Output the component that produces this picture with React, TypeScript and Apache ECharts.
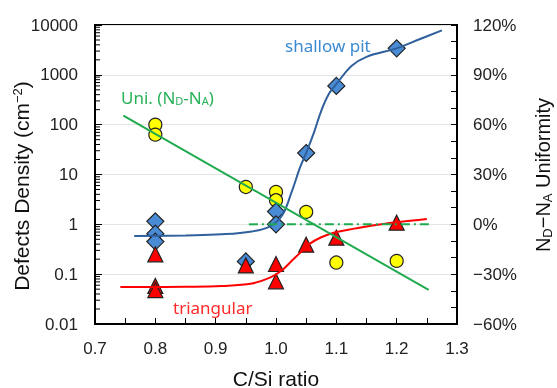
import React, { useEffect, useRef } from "react";
import * as echarts from "echarts";

// C/Si ratio measurements
const pitX = [0.8, 0.8, 0.8, 0.95, 1.0, 1.0, 1.05, 1.1, 1.2];
const pitY = [1.15, 0.65, 0.45, 0.18, 1.8, 1.0, 27, 600, 3400];

const triX = [0.8, 0.8, 0.8, 0.95, 1.0, 1.0, 1.05, 1.1, 1.2];
const triY = [0.25, 0.058, 0.048, 0.15, 0.16, 0.072, 0.39, 0.54, 1.08];

const uniX = [0.8, 0.8, 0.95, 1.0, 1.0, 1.05, 1.1, 1.2];
const uniY = [60, 54, 22.5, 19.5, 14.5, 7.5, -23, -22];

// fitted curves
const pitFitX = [0.765, 0.85, 0.91, 0.96, 0.99, 1.01, 1.026, 1.04, 1.05, 1.063, 1.075, 1.088, 1.1, 1.125, 1.15, 1.2, 1.24, 1.275];
const pitFitY = [0.58, 0.6, 0.63, 0.72, 0.91, 1.5, 4.5, 14, 27, 70, 190, 420, 650, 1500, 2300, 3400, 5300, 7800];

const triFitX = [0.742, 0.85, 0.91, 0.96, 0.99, 1.01, 1.025, 1.04, 1.055, 1.075, 1.1, 1.13, 1.16, 1.2, 1.25];
const triFitY = [0.055, 0.056, 0.058, 0.065, 0.085, 0.12, 0.18, 0.27, 0.4, 0.55, 0.7, 0.82, 0.95, 1.1, 1.28];

const uniFitX = [0.747, 1.253];
const uniFitY = [65.5, -39.5];

const zeroX = [0.955, 1.255];
const zeroY = [0, 0];

// log-axis minor tick positions
const minorMantissa = [2, 3, 4, 5, 6, 7, 8, 9];
const decades = [0.01, 0.1, 1, 10, 100, 1000];

const pair = (xs: number[], ys: number[]) => xs.map((x, i) => [x, ys[i]]);

export default function App() {
  const ref = useRef<HTMLDivElement>(null);
  useEffect(() => {
    if (!ref.current) return;
    const chart = echarts.init(ref.current, null, { renderer: "svg" });
    const axisFont = "Liberation Sans";
    const annFont = "Noto Sans";
    const minorData: number[][] = [];
    decades.forEach((d) => minorMantissa.forEach((m) => minorData.push([0.7, m * d])));

    chart.setOption({
      animation: false,
      grid: { left: 95, right: 100, top: 25, bottom: 64, show: true, borderColor: "#000", borderWidth: 2 },
      xAxis: {
        type: "value",
        min: 0.7,
        max: 1.3,
        interval: 0.1,
        axisLine: { onZero: false, lineStyle: { color: "#000", width: 2 } },
        axisTick: { show: true, inside: true, length: 6, lineStyle: { color: "#000", width: 1 } },
        minorTick: { show: true, splitNumber: 2, length: 6, lineStyle: { color: "#000", width: 1 } },
        splitLine: { show: false },
        axisLabel: {
          margin: 16,
          fontSize: 17,
          fontFamily: axisFont,
          color: "#222",
          formatter: (v: number) => v.toFixed(1),
        },
      },
      yAxis: [
        {
          type: "log",
          logBase: 10,
          min: 0.01,
          max: 10000,
          axisLine: { show: true, lineStyle: { color: "#000", width: 2 } },
          axisTick: { show: true, inside: true, length: 7, lineStyle: { color: "#000", width: 1 } },
          splitLine: { show: true, lineStyle: { color: "#e4e4e4", width: 1 } },
          axisLabel: {
            margin: 17,
            fontSize: 17,
            fontFamily: axisFont,
            color: "#222",
            formatter: (v: number) => String(v),
          },
        },
        {
          type: "value",
          min: -60,
          max: 120,
          interval: 30,
          position: "right",
          axisLine: { show: true, lineStyle: { color: "#000", width: 2 } },
          axisTick: { show: true, inside: true, length: 6, lineStyle: { color: "#000", width: 1 } },
          minorTick: { show: true, splitNumber: 3, length: 6, lineStyle: { color: "#000", width: 1 } },
          splitLine: { show: false },
          axisLabel: {
            margin: 16,
            fontSize: 17,
            fontFamily: axisFont,
            color: "#222",
            formatter: (v: number) => (v < 0 ? "\u2212" + Math.abs(v) : String(v)) + "%",
          },
        },
      ],
      graphic: [
        {
          type: "text",
          x: 21,
          y: 186,
          rotation: Math.PI / 2,
          style: {
            text: "Defects Density (cm{sup|\u22122})",
            fontSize: 21,
            fontFamily: axisFont,
            fill: "#111",
            align: "center",
            verticalAlign: "middle",
            rich: {
              sup: { fontSize: 13, fontFamily: axisFont, fill: "#111", verticalAlign: "top", padding: [0, 0, 8, 0] },
            },
          },
        },
        {
          type: "text",
          x: 543,
          y: 175,
          rotation: Math.PI / 2,
          style: {
            text: "N{sub|D}\u2212N{sub|A} Uniformity",
            fontSize: 20,
            fontFamily: axisFont,
            fill: "#111",
            align: "center",
            verticalAlign: "middle",
            rich: {
              sub: { fontSize: 13, fontFamily: axisFont, fill: "#111", verticalAlign: "bottom", padding: [8, 0, 0, 0] },
            },
          },
        },
        {
          type: "text",
          x: 276,
          y: 378,
          style: { text: "C/Si ratio", fontSize: 21, fontFamily: axisFont, fill: "#111", align: "center", verticalAlign: "middle" },
        },
        {
          type: "text",
          x: 285,
          y: 45,
          style: { text: "shallow pit", fontSize: 17, fontFamily: annFont, fill: "#3b8ad2", align: "left", verticalAlign: "middle" },
        },
        {
          type: "text",
          x: 121,
          y: 97,
          style: {
            text: "Uni. (N{sub|D}-N{sub|A})",
            fontSize: 17,
            fontFamily: annFont,
            fill: "#27b158",
            align: "left",
            verticalAlign: "middle",
            rich: {
              sub: { fontSize: 11, fontFamily: annFont, fill: "#27b158", verticalAlign: "bottom", padding: [7, 0, 0, 0] },
            },
          },
        },
        {
          type: "text",
          x: 173,
          y: 307,
          style: { text: "triangular", fontSize: 17, fontFamily: annFont, fill: "#ff2a2a", align: "left", verticalAlign: "middle" },
        },
      ],
      series: [
        {
          type: "custom",
          silent: true,
          clip: false,
          z: 5,
          data: minorData,
          renderItem: (params: any, api: any) => {
            const p = api.coord([api.value(0), api.value(1)]);
            return {
              type: "line",
              shape: { x1: p[0], y1: p[1], x2: p[0] + 5, y2: p[1] },
              style: { stroke: "#000", lineWidth: 1 },
            };
          },
        },
        {
          type: "line",
          yAxisIndex: 0,
          data: pair(pitFitX, pitFitY),
          smooth: 0.4,
          clip: false,
          showSymbol: false,
          lineStyle: { color: "#2f609c", width: 2 },
        },
        {
          type: "line",
          yAxisIndex: 0,
          data: pair(triFitX, triFitY),
          smooth: 0.4,
          clip: false,
          showSymbol: false,
          lineStyle: { color: "#ff0000", width: 2 },
        },
        {
          type: "line",
          yAxisIndex: 1,
          data: pair(uniFitX, uniFitY),
          clip: false,
          showSymbol: false,
          lineStyle: { color: "#1faa4f", width: 2 },
        },
        {
          type: "line",
          yAxisIndex: 1,
          data: pair(zeroX, zeroY),
          clip: false,
          showSymbol: false,
          lineStyle: { color: "#1faa4f", width: 2, type: [9, 4, 2, 4] },
        },
        {
          type: "scatter",
          yAxisIndex: 1,
          data: pair(uniX, uniY),
          symbol: "circle",
          symbolSize: 13,
          itemStyle: { color: "#ffff00", borderColor: "#222", borderWidth: 1.2, opacity: 1 },
        },
        {
          type: "scatter",
          yAxisIndex: 0,
          data: pair(pitX, pitY),
          symbol: "diamond",
          symbolSize: 17,
          itemStyle: { color: "#4a8bd6", borderColor: "#222", borderWidth: 1.2, opacity: 1 },
        },
        {
          type: "scatter",
          yAxisIndex: 0,
          data: pair(triX, triY),
          symbol: "triangle",
          symbolSize: 15,
          itemStyle: { color: "#ff0000", borderColor: "#222", borderWidth: 1.2, opacity: 1 },
        },
      ],
    });
    return () => chart.dispose();
  }, []);
  return <div ref={ref} style={{ position: "fixed", left: 0, top: 0, width: 557, height: 388 }} />;
}
